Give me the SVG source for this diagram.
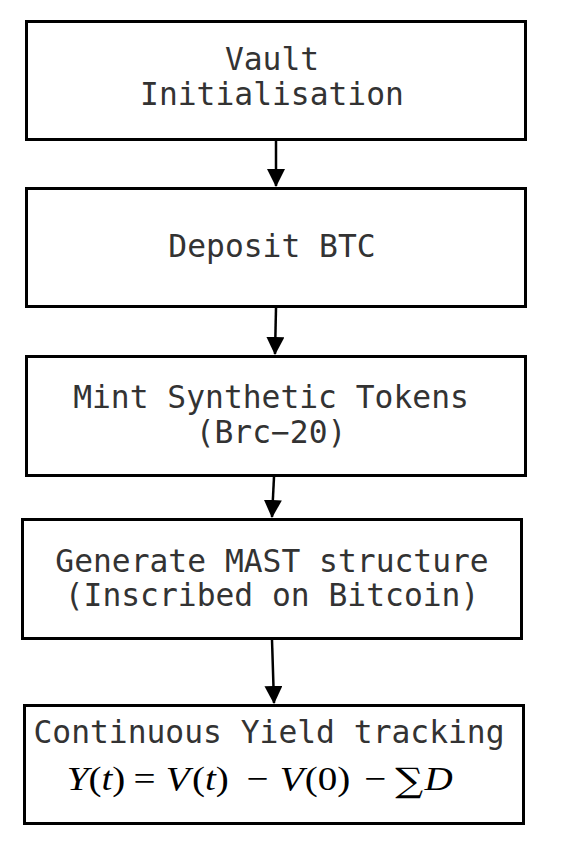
<svg xmlns="http://www.w3.org/2000/svg" width="566" height="866" viewBox="0 0 566 866">
<style>
.box{fill:#fff;stroke:#000;stroke-width:3}
.lbl{font-family:"DejaVu Sans Mono",monospace;font-size:31.3px;fill:#333;text-anchor:middle}
.edge{stroke:#000;stroke-width:2.5;fill:none}
.m{font-family:"Liberation Serif","DejaVu Serif",serif;font-size:34px;fill:#000}
.i{font-style:italic}
.sum{font-family:"DejaVu Serif",serif;font-size:34px}
</style>
<defs>
<marker id="ah" markerUnits="userSpaceOnUse" markerWidth="18" markerHeight="18" refX="17" refY="9" orient="auto" viewBox="0 0 18 18">
<path d="M0,0 L18,9 L0,18 z" fill="#000"/>
</marker>
</defs>
<rect width="566" height="866" fill="#fff"/>
<g id="connectors">
<line class="edge" x1="276" y1="141" x2="276" y2="186" marker-end="url(#ah)"/>
<line class="edge" x1="276" y1="308" x2="275" y2="354" marker-end="url(#ah)"/>
<line class="edge" x1="274" y1="477" x2="272" y2="517" marker-end="url(#ah)"/>
<line class="edge" x1="272" y1="640" x2="274" y2="703" marker-end="url(#ah)"/>
</g>
<g id="n1">
<rect class="box" x="26.5" y="21.5" width="499" height="118"/>
<text class="lbl" x="272" y="70">Vault</text>
<text class="lbl" x="272" y="105">Initialisation</text>
</g>
<g id="n2">
<rect class="box" x="26.5" y="188.5" width="499" height="118"/>
<text class="lbl" x="272" y="257">Deposit BTC</text>
</g>
<g id="n3">
<rect class="box" x="26.5" y="356.5" width="499" height="119"/>
<text class="lbl" x="271" y="408">Mint Synthetic Tokens</text>
<text class="lbl" x="271" y="443">(Brc−20)</text>
</g>
<g id="n4">
<rect class="box" x="22.5" y="519.5" width="499" height="119"/>
<text class="lbl" x="272" y="572">Generate MAST structure</text>
<text class="lbl" x="272" y="606">(Inscribed on Bitcoin)</text>
</g>
<g id="n5">
<rect class="box" x="24.5" y="705.5" width="499" height="118"/>
<text class="lbl" x="269" y="743">Continuous Yield tracking</text>
<text class="m" transform="translate(0,790) scale(1.15,1)" x="58" y="0"><tspan class="i">Y</tspan>(<tspan class="i">t</tspan>)<tspan dx="7">=</tspan><tspan class="i" dx="9">V</tspan><tspan dx="2">(</tspan><tspan class="i">t</tspan>)<tspan dx="15">−</tspan><tspan class="i" dx="10">V</tspan><tspan dx="1">(</tspan>0)<tspan dx="12">−</tspan><tspan class="sum" dx="8" dy="2">∑</tspan><tspan class="i" dx="1" dy="-2">D</tspan></text>
</g>
</svg>
